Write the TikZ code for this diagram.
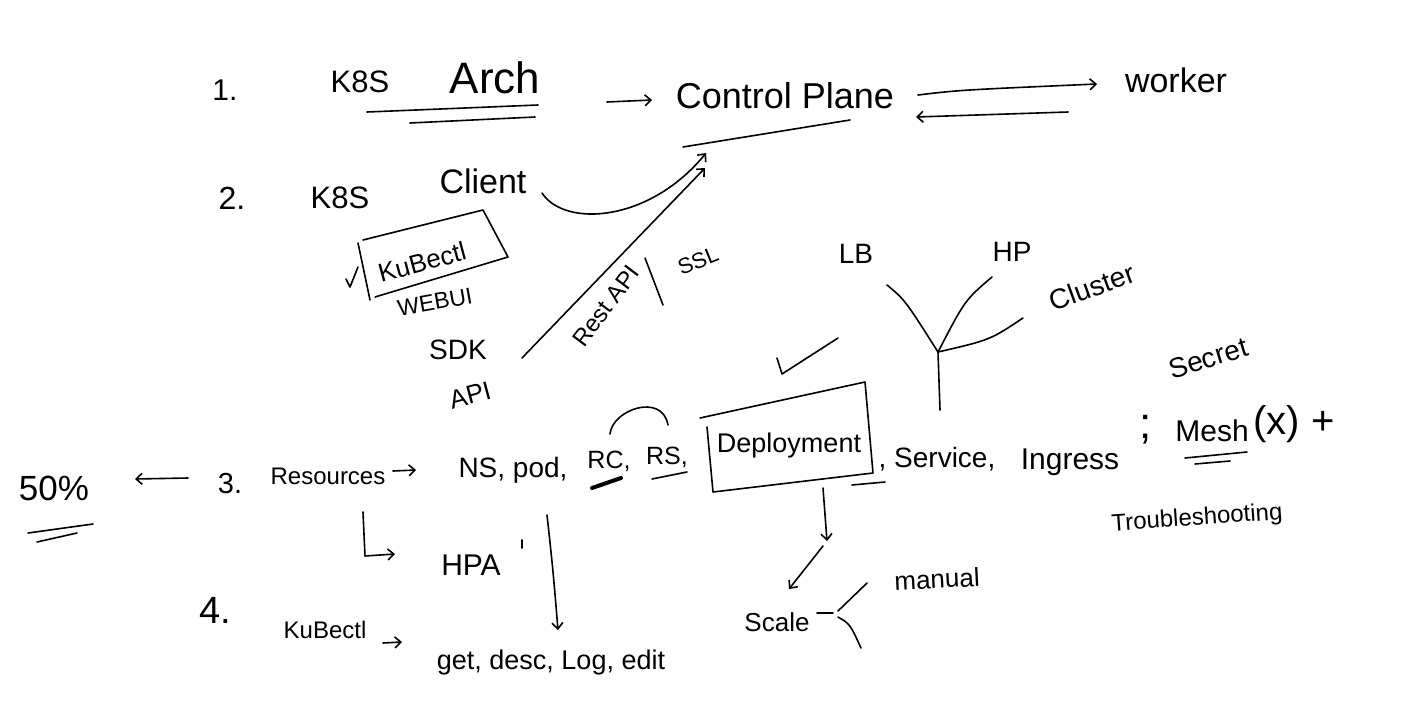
\documentclass[tikz,border=0pt]{standalone}
\usepackage{fontspec}
\setmainfont{Liberation Sans}
\usetikzlibrary{arrows.meta}
\begin{document}
\begin{tikzpicture}[x=1pt,y=-1pt,
  hw/.style={inner sep=0pt, font=\fontsize{#1}{#1}\selectfont},
  hw/.default=28,
  pen/.style={line width=1.6pt, line cap=round, line join=round},
  arr/.style={pen, -{Straight Barb[length=6pt,width=11pt,line width=1.6pt]}}]
\useasboundingbox[fill=white] (0,0) rectangle (1402,723);

% ---------- row 1 ----------
\node[hw=30] (n1) at (225,90) {1.};
\node[hw=31] (k8sA) at (360,82) {K8S};
\node[hw=44] (arch) at (495,78) {Arch};
\node[hw=36] (cp) at (785,96) {Control Plane};
\node[hw=34] (worker) at (1176,80) {worker};

\coordinate (u1a) at (367,112); \coordinate (u1b) at (538,105);
\coordinate (u2a) at (410,123); \coordinate (u2b) at (535,117);
\draw[pen] (u1a) -- (u1b);
\draw[pen] (u2a) -- (u2b);

\coordinate (cpIn) at (607,102); \coordinate (cpInEnd) at (652,100);
\draw[arr] (cpIn) -- (cpInEnd);
\coordinate (cpUa) at (683,147); \coordinate (cpUb) at (850,120);
\draw[pen] (cpUa) -- (cpUb);

\coordinate (dwA) at (918,95); \coordinate (dwB) at (1097,84);
\coordinate (dwC) at (1068,112); \coordinate (dwD) at (916,117);
\draw[arr] (dwA) .. controls (960,90) .. (dwB);
\draw[arr] (dwC) -- (dwD);

% ---------- row 2 ----------
\node[hw=32] (n2) at (232,198) {2.};
\node[hw=31] (k8sB) at (340,198) {K8S};
\node[hw=34] (client) at (483,181) {Client};

\node[hw=26, rotate=15] (kubectlA) at (422,262) {KuBectl};
\coordinate (bxA) at (363,240); \coordinate (bxB) at (483,210);
\coordinate (bxC) at (508,257); \coordinate (bxD) at (375,297);
\coordinate (bxE) at (358,243); \coordinate (bxF) at (370,300);
\draw[pen] (bxA) -- (bxB) -- (bxC) -- (bxD);
\draw[pen] (bxE) -- (bxF);
\coordinate (tkA) at (346,279); \coordinate (tkB) at (350,287); \coordinate (tkC) at (358,267);
\draw[pen] (tkA) -- (tkB) -- (tkC);

\node[hw=23, rotate=10] (webui) at (435,302) {WEBUI};
\node[hw=28] (sdk) at (458,350) {SDK};
\node[hw=26, rotate=15] (apiA) at (470,395) {API};

\coordinate (clS) at (542,193); \coordinate (clE) at (706,153);
\draw[arr] (clS) .. controls (565,228) and (650,222) .. (clE);
\coordinate (sdS) at (522,358); \coordinate (sdE) at (705,168);
\draw[arr] (sdS) -- (sdE);

\node[hw=24, rotate=53] (rest) at (606,306) {Rest API};
\coordinate (barA) at (645,258); \coordinate (barB) at (663,305);
\draw[pen] (barA) -- (barB);
\node[hw=22, rotate=22] (ssl) at (698,261) {SSL};

% ---------- tree ----------
\node[hw=28] (lb) at (856,254) {LB};
\node[hw=28] (hp) at (1012,252) {HP};
\node[hw=28, rotate=20] (cluster) at (1092,287) {Cluster};
\coordinate (jn) at (938,352);
\coordinate (tLB) at (887,285); \coordinate (tHP) at (992,277);
\coordinate (tCL) at (1023,318); \coordinate (tBot) at (940,410);
\draw[pen] (tLB) .. controls (905,300) .. (jn);
\draw[pen] (tHP) .. controls (965,300) .. (jn);
\draw[pen] (tCL) .. controls (990,340) .. (jn);
\draw[pen] (jn) -- (tBot);

% ---------- row 3 ----------
\node[hw=35] (pct) at (54,488) {50\%};
\coordinate (pu1a) at (28,533); \coordinate (pu1b) at (93,524);
\coordinate (pu2a) at (37,542); \coordinate (pu2b) at (77,533);
\draw[pen] (pu1a) -- (pu1b);
\draw[pen] (pu2a) -- (pu2b);
\coordinate (lfS) at (188,478); \coordinate (lfE) at (135,479);
\draw[arr] (lfS) -- (lfE);

\node[hw=29] (n3) at (230,484) {3.};
\node[hw=24] (res) at (328,476) {Resources};
\coordinate (raS) at (393,471); \coordinate (raE) at (416,470);
\draw[arr] (raS) -- (raE);

\node[hw=28] (nspod) at (513,470) {NS, pod,};
\node[hw=25] (rc) at (609,461) {RC,};
\node[hw=25] (rs) at (667,457) {RS,};
\coordinate (rcuA) at (592,488); \coordinate (rcuB) at (621,478);
\draw[pen, line width=4pt] (rcuA) -- (rcuB);
\coordinate (rsuA) at (652,479); \coordinate (rsuB) at (687,472);
\draw[pen] (rsuA) -- (rsuB);
\coordinate (arcA) at (610,434); \coordinate (arcB) at (668,425);
\draw[pen] (arcA) .. controls (612,410) and (662,392) .. (arcB);

\node[hw=27] (deploy) at (789,446) {Deployment};
\coordinate (dbA) at (700,418); \coordinate (dbB) at (865,382);
\coordinate (dbC) at (873,473); \coordinate (dbD) at (713,492);
\coordinate (dbE) at (707,427);
\draw[pen] (dbA) -- (dbB) -- (dbC) -- (dbD) -- (dbE);
\coordinate (ckA) at (777,358); \coordinate (ckB) at (782,374); \coordinate (ckC) at (838,338);
\draw[pen] (ckA) -- (ckB) -- (ckC);
\coordinate (duA) at (852,485); \coordinate (duB) at (885,482);
\draw[pen] (duA) -- (duB);

\node[hw=28] (service) at (937,459) {, Service,};
\node[hw=30] (ingress) at (1070,462) {Ingress};
\node[hw=44] (semi) at (1146,430) {;};
\node[hw=28, rotate=17] (secret) at (1208,358) {Secret};
\node[hw=30] (mesh) at (1212,431) {Mesh};
\coordinate (muA) at (1185,458); \coordinate (muB) at (1247,452);
\coordinate (mvA) at (1195,464); \coordinate (mvB) at (1230,461);
\draw[pen] (muA) -- (muB);
\draw[pen] (mvA) -- (mvB);
\node[hw=40] (mx) at (1294,424) {(x) +};
\node[hw=24, rotate=4] (trouble) at (1197,519) {Troubleshooting};

% Deployment -> Scale
\coordinate (d1S) at (823,488); \coordinate (d1E) at (827,541);
\draw[arr] (d1S) -- (d1E);
\coordinate (d2S) at (823,546); \coordinate (d2E) at (789,589);
\draw[arr] (d2S) -- (d2E);
\node[hw=26] (scale) at (777,622) {Scale};
\coordinate (dsA) at (817,613); \coordinate (dsB) at (833,613);
\draw[pen] (dsA) -- (dsB);
\coordinate (brA) at (867,583); \coordinate (brB) at (838,611);
\coordinate (brC) at (838,617); \coordinate (brD) at (861,648);
\draw[pen] (brA) -- (brB);
\draw[pen] (brC) .. controls (850,624) .. (brD);
\node[hw=26, rotate=3] (manual) at (937,579) {manual};

% ---------- HPA / row 4 ----------
\coordinate (lS) at (363,512); \coordinate (lM) at (365,556); \coordinate (lE) at (395,554);
\draw[arr] (lS) -- (lM) -- (lE);
\node[hw=30] (hpa) at (471,565) {HPA};
\coordinate (hqA) at (522,540); \coordinate (hqB) at (522,548);
\draw[pen] (hqA) -- (hqB);

\coordinate (vS) at (547,515); \coordinate (vE) at (558,630);
\draw[arr] (vS) .. controls (553,570) .. (vE);

\node[hw=38] (n4) at (215,610) {4.};
\node[hw=24] (kubectlB) at (325,630) {KuBectl};
\coordinate (kaS) at (383,643); \coordinate (kaE) at (402,642);
\draw[arr] (kaS) -- (kaE);
\node[hw=27] (getdesc) at (551,663) {get, desc, Log, edit};
\end{tikzpicture}
\end{document}
